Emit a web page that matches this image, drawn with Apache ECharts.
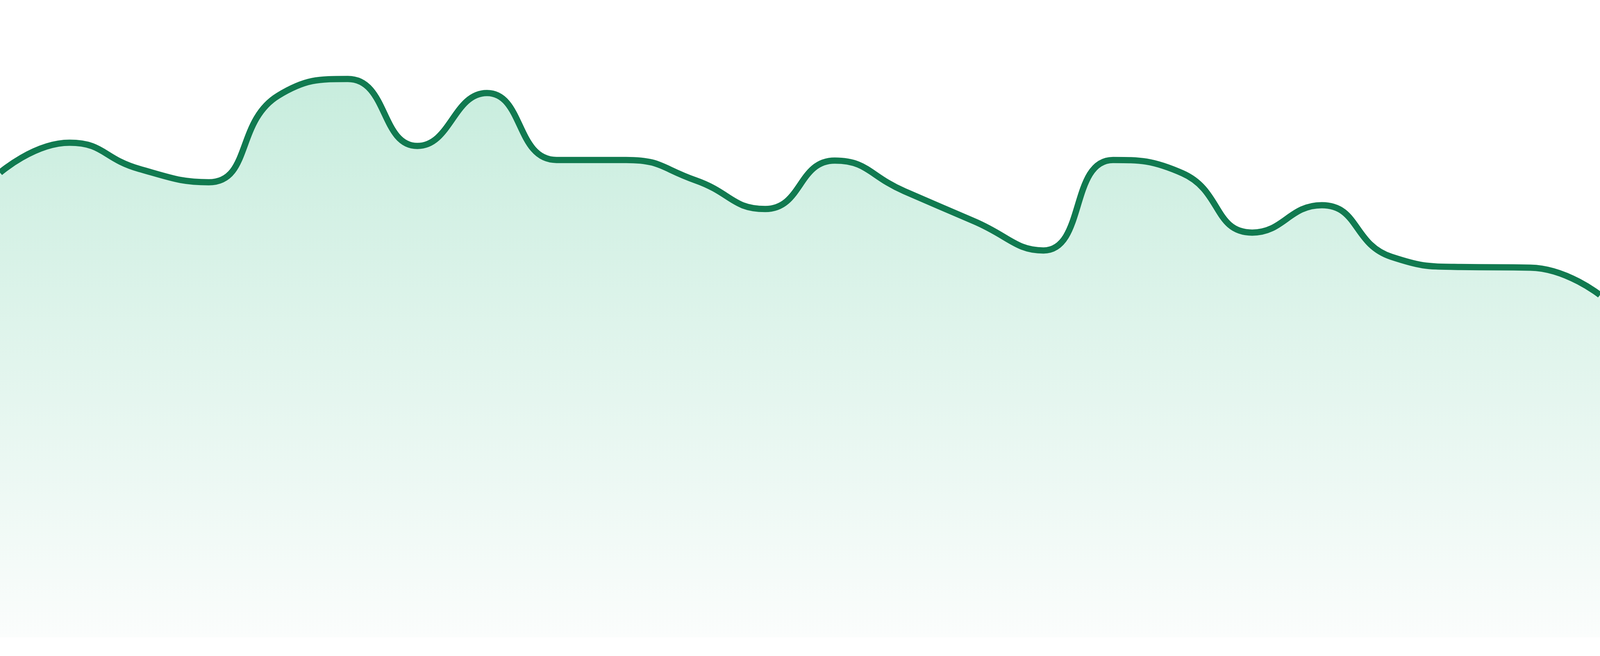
<!DOCTYPE html>
<html>
<head>
<meta charset="utf-8">
<script src="https://cdn.jsdelivr.net/npm/echarts@6/dist/echarts.min.js"></script>
<style>
html,body{margin:0;padding:0;background:#ffffff;overflow:hidden;}
#chart{width:100vw;height:100vh;}
</style>
</head>
<body>
<div id="chart"></div>
<script>
const categories = ['1','2','3','4','5','6','7','8','9','10','11','12','13','14','15','16','17','18','19','20','21','22','23','24'];
const values = [72.9, 77.6, 73.5, 71.4, 85.0, 87.6, 77.1, 85.4, 74.9, 74.9, 71.7, 67.2, 74.8, 70.0, 65.3, 60.7, 74.9, 72.8, 63.5, 67.8, 59.7, 58.1, 58.0, 53.7];
const yMin = 0;
const yMax = 100;

// sizes are specified for a 1680px-tall page and scaled to the actual viewport
const k = (window.innerHeight || 1680) / 1680;

const chart = echarts.init(document.getElementById('chart'), null, {renderer: 'canvas'});
chart.setOption({
  animation: false,
  backgroundColor: '#ffffff',
  grid: {left: 0, right: 0, top: 0, bottom: 48 * k},
  xAxis: {
    type: 'category',
    data: categories,
    boundaryGap: false,
    show: false
  },
  yAxis: {
    type: 'value',
    min: yMin,
    max: yMax,
    show: false
  },
  series: [{
    type: 'line',
    data: values,
    smooth: true,
    symbol: 'none',
    lineStyle: {color: '#117a50', width: 16 * k},
    areaStyle: {
      color: new echarts.graphic.LinearGradient(0, 0, 0, 1, [
        {offset: 0, color: '#b0e5cf'},
        {offset: 1, color: '#f9fcfb'}
      ])
    }
  }]
});
window.addEventListener('resize', function () { chart.resize(); });
</script>
</body>
</html>
